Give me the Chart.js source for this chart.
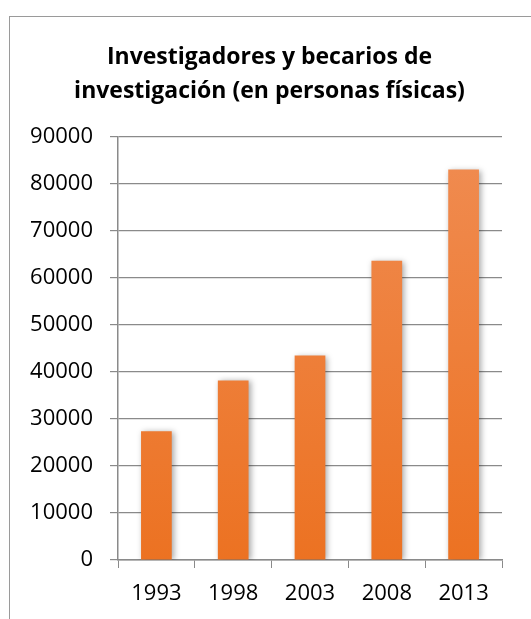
<!DOCTYPE html>
<html>
<head>
<meta charset="utf-8">
<script src="https://cdn.jsdelivr.net/npm/chart.js@4"></script>
<style>
  html, body { margin: 0; padding: 0; background: #fff; }
  #wrap { position: relative; width: 531px; height: 619px; }
  #frame { position: absolute; left: 9px; top: 16px; width: 540px; height: 640px; border-left: 1.5px solid #9a9a9a; border-top: 1.5px solid #9a9a9a; box-sizing: border-box; }
  canvas { position: absolute; left: 0; top: 0; }
</style>
</head>
<body>
<div id="wrap">
  <div id="frame"></div>
  <canvas id="c" width="531" height="619"></canvas>
</div>
<script>
const categories = ["1993", "1998", "2003", "2008", "2013"];
const values = [27400, 38200, 43500, 63700, 83100];
const titleLines = ["Investigadores y becarios de", "investigación (en personas físicas)"];

const FONT = "'Open Sans', Lato, sans-serif";

const shadowPlugin = {
  id: 'barShadow',
  beforeDatasetsDraw(chart) {
    const ctx = chart.ctx;
    ctx.save();
    ctx.shadowColor = 'rgba(0,0,0,0.35)';
    ctx.shadowBlur = 6;
    ctx.shadowOffsetX = 2;
    ctx.shadowOffsetY = 1;
  },
  afterDatasetsDraw(chart) {
    chart.ctx.restore();
  }
};

new Chart(document.getElementById('c'), {
  type: 'bar',
  data: {
    labels: categories,
    datasets: [{
      data: values,
      backgroundColor: (c) => {
        const area = c.chart.chartArea;
        if (!area) return '#EF7D32';
        const g = c.chart.ctx.createLinearGradient(0, area.top, 0, area.bottom);
        g.addColorStop(0, '#F08C52');
        g.addColorStop(1, '#EC7222');
        return g;
      },
      borderWidth: 0,
      barPercentage: 0.8,
      categoryPercentage: 0.5
    }]
  },
  options: {
    responsive: false,
    animation: false,
    layout: { padding: { left: 8, right: 0, top: 0, bottom: 0 } },
    plugins: {
      legend: { display: false },
      tooltip: { enabled: false },
      title: {
        display: true,
        text: titleLines,
        color: '#000',
        font: { family: FONT, size: 23, weight: 'bold', lineHeight: 1.48 },
        padding: { top: 40, bottom: 29 }
      }
    },
    scales: {
      x: {
        grid: { display: true, drawOnChartArea: false, drawTicks: true, tickLength: 8, color: '#8a8a8a', offset: true },
        border: { display: true, color: '#8a8a8a', width: 1.5 },
        ticks: { color: '#000', font: { family: FONT, size: 22 }, padding: 13 },
        afterFit: (s) => { s.height = 59; }
      },
      y: {
        min: 0, max: 90000,
        ticks: { stepSize: 10000, color: '#000', font: { family: FONT, size: 22 }, padding: 17,
                 callback: (v) => String(v) },
        grid: { color: '#8a8a8a', lineWidth: 1.2, tickLength: 8 },
        border: { display: true, color: '#8a8a8a', width: 1.5 },
        afterFit: (s) => { s.width = 110; }
      },
      yRight: {
        position: 'right',
        display: true,
        grid: { display: false, drawTicks: false },
        border: { display: false },
        ticks: { display: false },
        afterFit: (s) => { s.width = 29; }
      }
    }
  },
  plugins: [shadowPlugin]
});
</script>
</body>
</html>
